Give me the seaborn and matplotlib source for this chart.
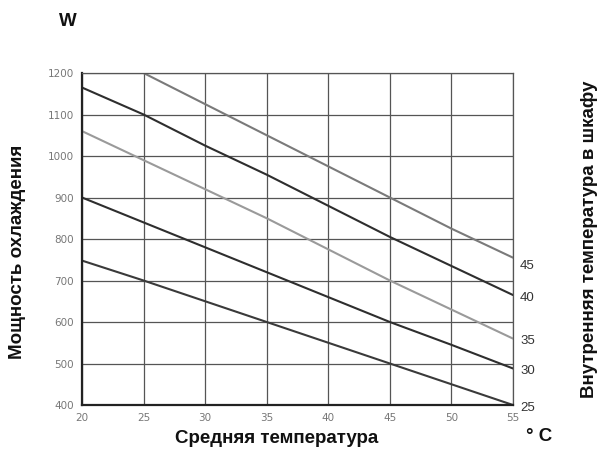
import numpy as np
import pandas as pd
import matplotlib
matplotlib.use("Agg")
import matplotlib.pyplot as plt
import seaborn as sns

# Ambient temperature, °C
temps = [20, 25, 30, 35, 40, 45, 50, 55]
# Cooling power, W, for each internal cabinet temperature
p25 = [748, 700, 650, 600, 550, 500, 450, 400]
p30 = [900, 840, 780, 720, 660, 600, 545, 488]
p35 = [1060, 990, 920, 850, 775, 700, 630, 560]
p40 = [1165, 1100, 1025, 955, 880, 805, 735, 665]
p45 = [np.nan, 1200, 1125, 1050, 975, 900, 825, 755]
inner_temps = ["25", "30", "35", "40", "45"]
series = [p25, p30, p35, p40, p45]
line_colors = ["#3a3a3a", "#2e2e2e", "#9a9a9a", "#2e2e2e", "#7a7a7a"]

x_ticks = [20, 25, 30, 35, 40, 45, 50, 55]
y_ticks = [400, 500, 600, 700, 800, 900, 1000, 1100, 1200]

rows = []
for name, vals in zip(inner_temps, series):
    for t, v in zip(temps, vals):
        rows.append({"ambient": t, "power": v, "inner": name})
df = pd.DataFrame(rows)

sns.set_style("white")
label_font = ["Liberation Sans", "DejaVu Sans"]

fig = plt.figure(figsize=(6.02, 4.65), dpi=100)
ax = fig.add_axes([0.1362, 0.129, 0.716, 0.714])

sns.lineplot(data=df, x="ambient", y="power", hue="inner",
             palette=dict(zip(inner_temps, line_colors)),
             linewidth=1.5, legend=False, ax=ax)

ax.set_xlim(20, 55)
ax.set_ylim(400, 1200)
ax.set_xticks(x_ticks)
ax.set_yticks(y_ticks)
ax.grid(True, color="#555555", linewidth=0.9)
ax.set_axisbelow(True)
for side, sp in ax.spines.items():
    if side in ("left", "bottom"):
        sp.set_color("#222222")
        sp.set_linewidth(1.6)
    else:
        sp.set_color("#555555")
        sp.set_linewidth(0.9)
ax.tick_params(axis="both", length=3, width=0.8, color="#555555",
               labelsize=7.5, labelcolor="#777777", pad=3)
ax.set_xlabel("")
ax.set_ylabel("")

# Internal-temperature labels at the right end of each curve
for name, vals in zip(inner_temps, series):
    dy = -6 if name == "45" else -2
    ax.annotate(name, xy=(55, vals[-1]), xytext=(5, dy), textcoords="offset points",
                ha="left", va="center", fontsize=9.5, color="#333333",
                family=label_font, annotation_clip=False)

fig.text(68 / 602, 1 - 22 / 465, "W", ha="center", va="center",
         fontsize=13.5, fontweight="bold", color="#111111", family=label_font)
fig.text(18 / 602, 1 - 252 / 465, "Мощность охлаждения", rotation=90,
         ha="center", va="center", fontsize=13.5, fontweight="bold",
         color="#111111", family=label_font)
fig.text(277 / 602, 1 - 438 / 465, "Средняя температура", ha="center", va="center",
         fontsize=13.5, fontweight="bold", color="#111111", family=label_font)
fig.text(539 / 602, 1 - 436 / 465, "° C", ha="center", va="center",
         fontsize=13.5, fontweight="bold", color="#111111", family=label_font)
fig.text(589 / 602, 1 - 239 / 465, "Внутренняя температура в шкафу", rotation=90,
         ha="center", va="center", fontsize=13.5, fontweight="bold",
         color="#111111", family=label_font)

fig.savefig("out.png", dpi=100)
